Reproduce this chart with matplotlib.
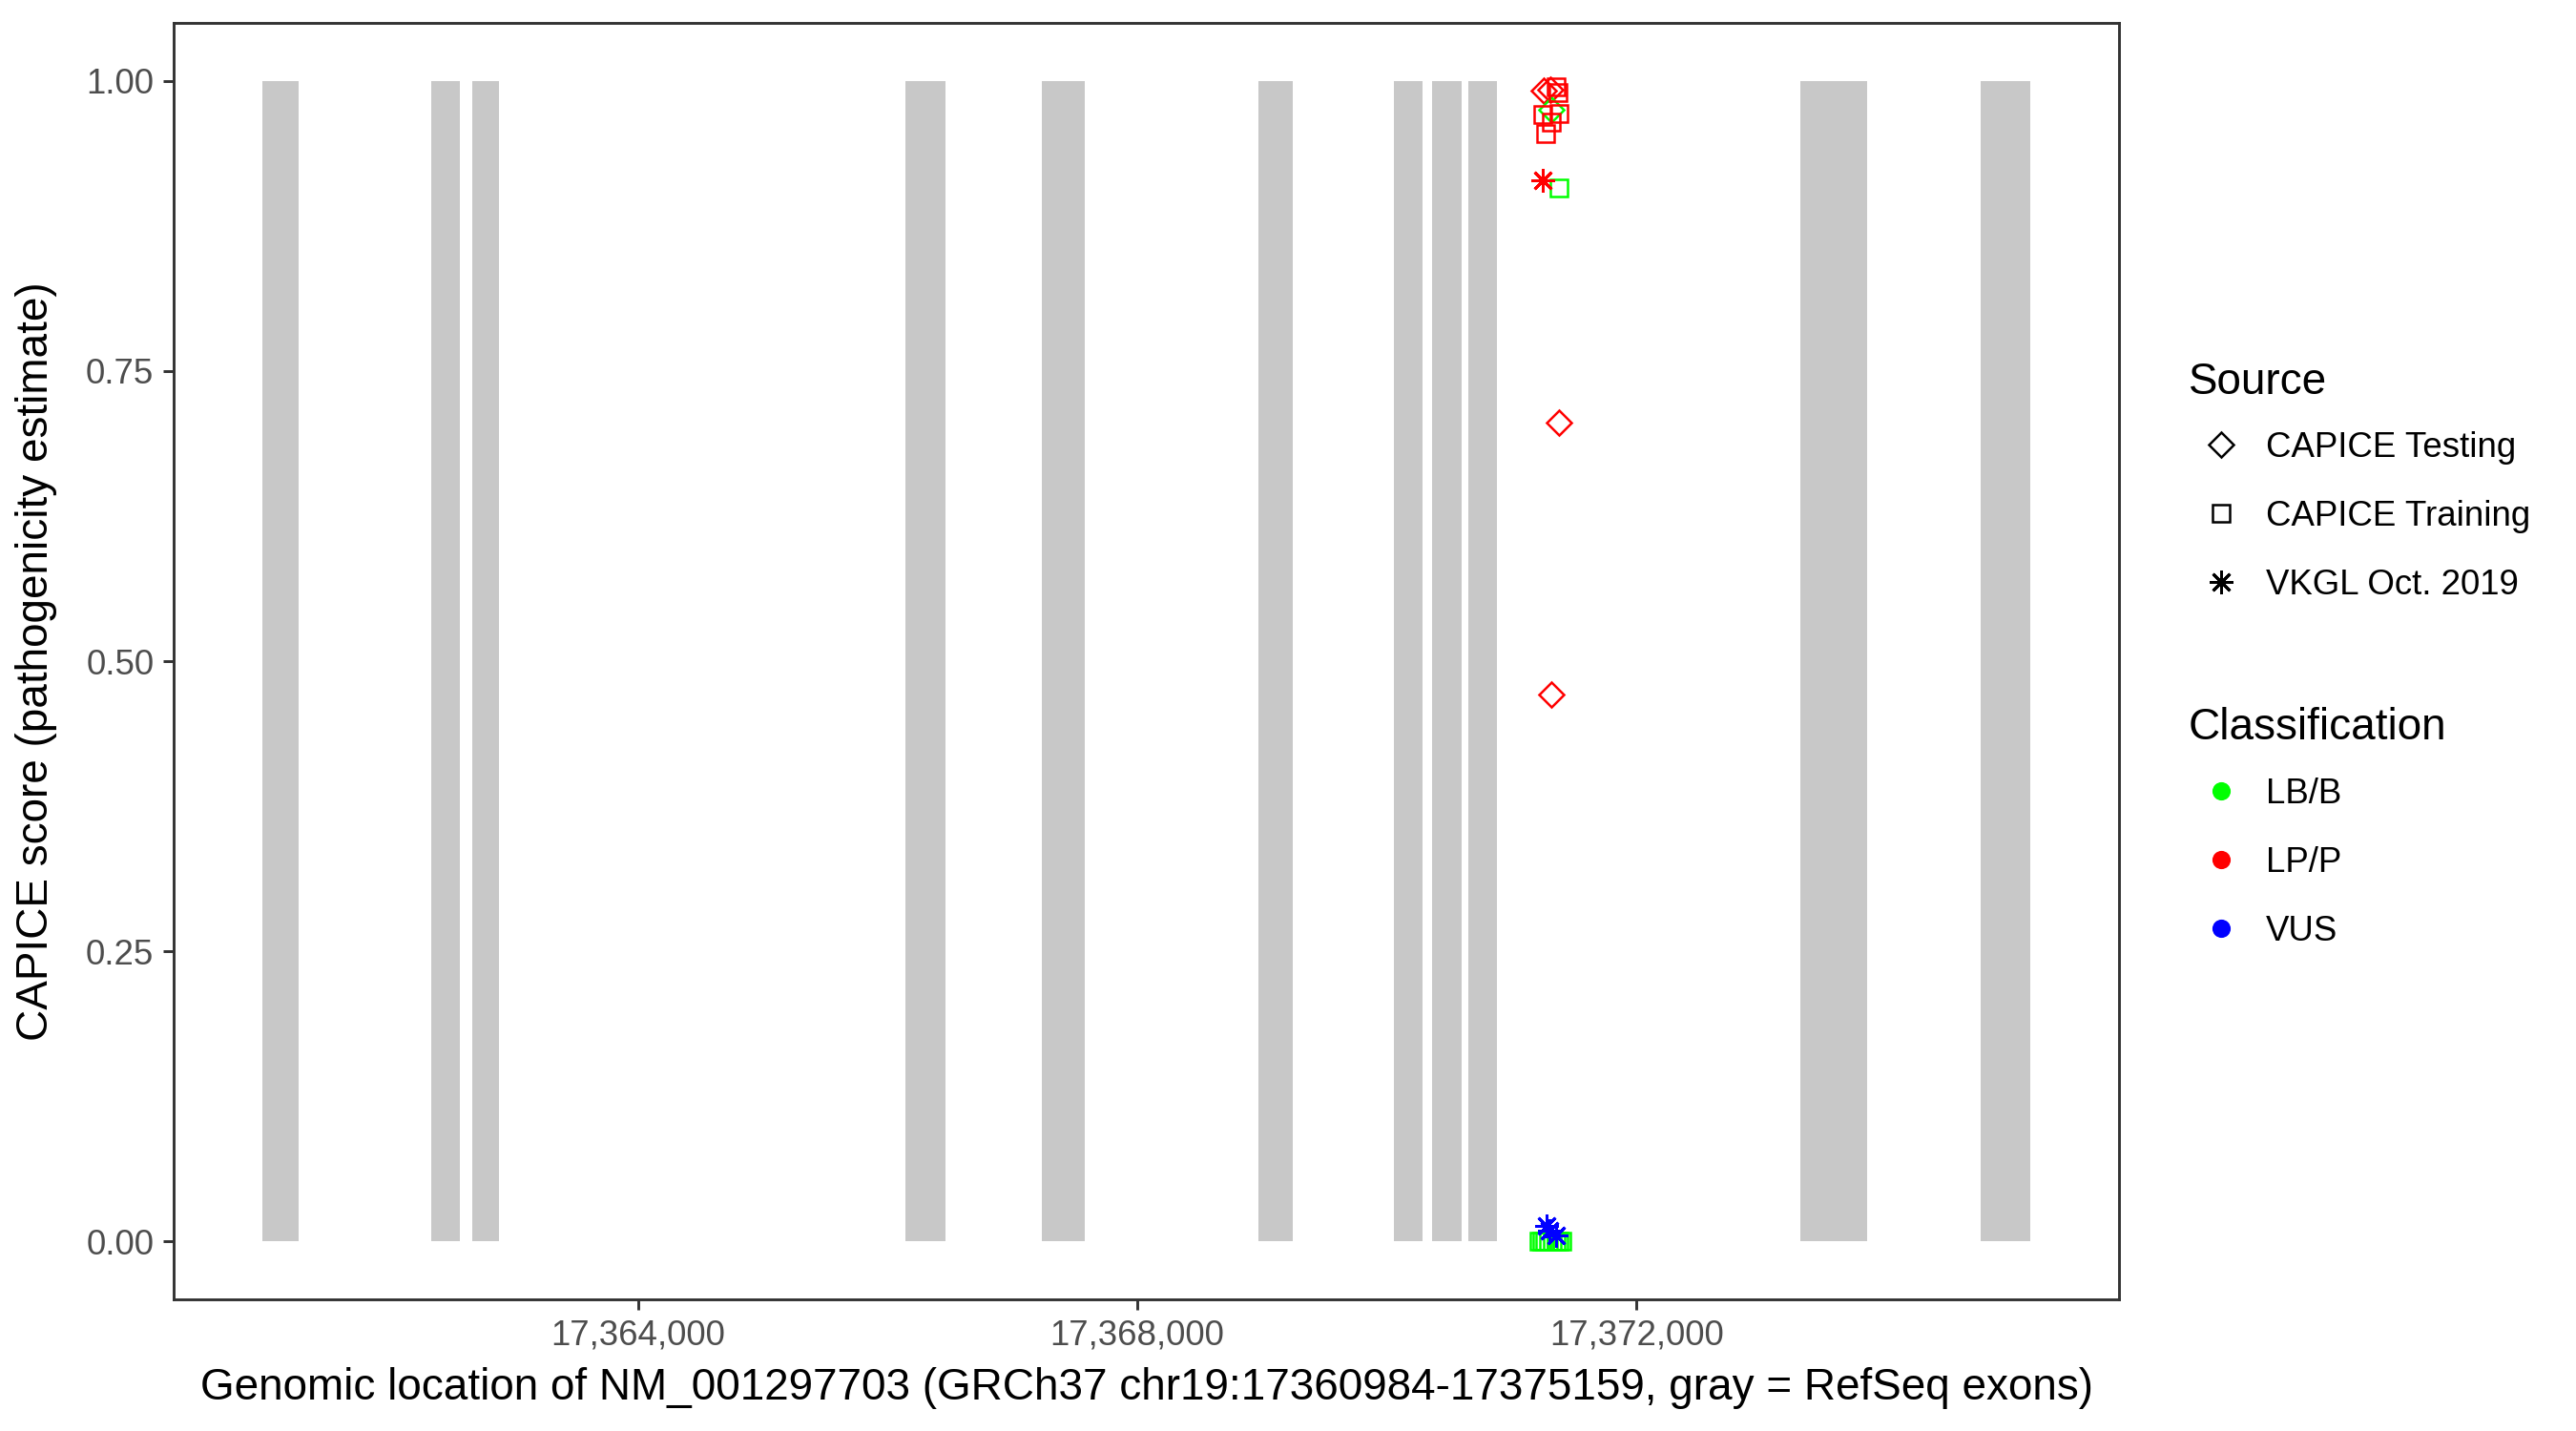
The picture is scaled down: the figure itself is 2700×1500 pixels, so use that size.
import matplotlib
matplotlib.use("Agg")
import matplotlib.pyplot as plt
from matplotlib.lines import Line2D
from matplotlib.ticker import FuncFormatter, FixedLocator

plt.rcParams['font.family'] = ['Liberation Sans', 'DejaVu Sans']

# ---- data ----
exon_starts = [17360984, 17362340, 17362671, 17366143, 17367234, 17368968,
               17370055, 17370359, 17370655, 17373314, 17374757]
exon_ends = [17361279, 17362571, 17362884, 17366463, 17367581, 17369244,
             17370288, 17370596, 17370885, 17373848, 17375159]

gene_start = 17360984
gene_end = 17375159

# CAPICE Testing (diamonds)
test_x = [17371254, 17371313, 17371376, 17371318, 17371318]
test_y = [0.9916, 0.9925, 0.7055, 0.4716, 0.975]
test_cls = ['LP/P', 'LP/P', 'LP/P', 'LP/P', 'LB/B']

# CAPICE Training (squares)
train_x = [17371357, 17371369, 17371246, 17371382, 17371318, 17371275, 17371382,
           17371222, 17371245, 17371268, 17371298, 17371329, 17371359, 17371382, 17371405]
train_y = [0.995, 0.990, 0.971, 0.9716, 0.9646, 0.9544, 0.9076,
           0.0, 0.0, 0.0, 0.0, 0.0, 0.0, 0.0, 0.0]
train_cls = ['LP/P', 'LP/P', 'LP/P', 'LP/P', 'LP/P', 'LP/P', 'LB/B',
             'LB/B', 'LB/B', 'LB/B', 'LB/B', 'LB/B', 'LB/B', 'LB/B', 'LB/B']

# VKGL Oct. 2019 (asterisks)
vkgl_x = [17371249, 17371280, 17371300, 17371356]
vkgl_y = [0.9142, 0.0134, 0.009, 0.0052]
vkgl_cls = ['LP/P', 'VUS', 'VUS', 'VUS']

sources = ['CAPICE Testing', 'CAPICE Training', 'VKGL Oct. 2019']
classes = ['LB/B', 'LP/P', 'VUS']

x_ticks = [17364000, 17368000, 17372000]
y_ticks = [0.0, 0.25, 0.50, 0.75, 1.00]

# ---- styles ----
class_colors = {'LB/B': '#00FF00', 'LP/P': '#FF0000', 'VUS': '#0000FF'}
ASTER = (8, 2, 0)
source_markers = {'CAPICE Testing': 'D', 'CAPICE Training': 's', 'VKGL Oct. 2019': ASTER}
source_ms = {'CAPICE Testing': 4.3, 'CAPICE Training': 4.3, 'VKGL Oct. 2019': 6.0}

fig = plt.figure(figsize=(9, 5), dpi=300)
fig.patch.set_facecolor('white')
W, H = 2700, 1500
ax = fig.add_axes([182 / W, 1 - 1362 / H, (2221 - 182) / W, (1362 - 24) / H])

# exons
ax.bar(exon_starts, [1.0] * len(exon_starts),
       width=[e - s for s, e in zip(exon_starts, exon_ends)],
       bottom=0, align='edge', color='#C8C8C8', linewidth=0, zorder=1)

def draw(xs, ys, cls, src):
    for x, y, c in zip(xs, ys, cls):
        col = class_colors[c]
        m = source_markers[src]
        if m == ASTER:
            ax.plot([x], [y], ls='none', marker=m, ms=source_ms[src],
                    mec=col, mfc=col, mew=0.7, zorder=3)
        else:
            ax.plot([x], [y], ls='none', marker=m, ms=source_ms[src],
                    mec=col, mfc='none', mew=0.6, zorder=3)

draw(test_x, test_y, test_cls, 'CAPICE Testing')
draw(train_x, train_y, train_cls, 'CAPICE Training')
draw(vkgl_x, vkgl_y, vkgl_cls, 'VKGL Oct. 2019')

span = gene_end - gene_start
ax.set_xlim(gene_start - 0.05 * span, gene_end + 0.05 * span)
ax.set_ylim(-0.05, 1.05)

ax.xaxis.set_major_locator(FixedLocator(x_ticks))
ax.xaxis.set_major_formatter(FuncFormatter(lambda v, p: f"{int(round(v)):,}"))
ax.yaxis.set_major_locator(FixedLocator(y_ticks))
ax.yaxis.set_major_formatter(FuncFormatter(lambda v, p: f"{v:.2f}"))

for sp in ax.spines.values():
    sp.set_color('#333333')
    sp.set_linewidth(0.7)
ax.tick_params(axis='both', which='major', length=2.75, width=0.7, color='#333333',
               labelsize=8.8, labelcolor='#4D4D4D', pad=2.2)

ax.set_xlabel('Genomic location of NM_001297703 (GRCh37 chr19:17360984-17375159, gray = RefSeq exons)',
              fontsize=11, color='black')
ax.set_ylabel('CAPICE score (pathogenicity estimate)', fontsize=11, color='black')
ax.xaxis.label.set_va('center')
ax.yaxis.label.set_va('center')
ax.xaxis.set_label_coords(0.5, (1362 - 1455) / 1338)
ax.yaxis.set_label_coords((38 - 182) / 2039, 0.5)

# legends
src_handles = [Line2D([], [], ls='none', marker=source_markers[s], ms=source_ms[s],
                      mec='black', mfc='none' if s != 'VKGL Oct. 2019' else 'black',
                      mew=0.6 if s != 'VKGL Oct. 2019' else 0.7)
               for s in sources]
cls_handles = [Line2D([], [], ls='none', marker='o', ms=4.6, mec=class_colors[c],
                      mfc=class_colors[c], mew=0) for c in classes]

LS = 1.01
leg_kw = dict(loc='upper left', frameon=False, fontsize=8.8, title_fontsize=11,
              alignment='left', borderpad=0, borderaxespad=0, labelspacing=LS,
              handlelength=1.88, handletextpad=0.33)
leg1 = fig.legend(handles=src_handles, labels=sources, title='Source',
                  bbox_to_anchor=(2293.6 / W, 1 - 379 / H), **leg_kw)
leg2 = fig.legend(handles=cls_handles, labels=classes, title='Classification',
                  bbox_to_anchor=(2293.6 / W, 1 - 741.5 / H), **leg_kw)
for lg in (leg1, leg2):
    try:
        lg._legend_box.sep = LS * 8.8 - 8 * 72 / 300
    except Exception:
        pass

fig.savefig('out.png', dpi=300, facecolor='white')
